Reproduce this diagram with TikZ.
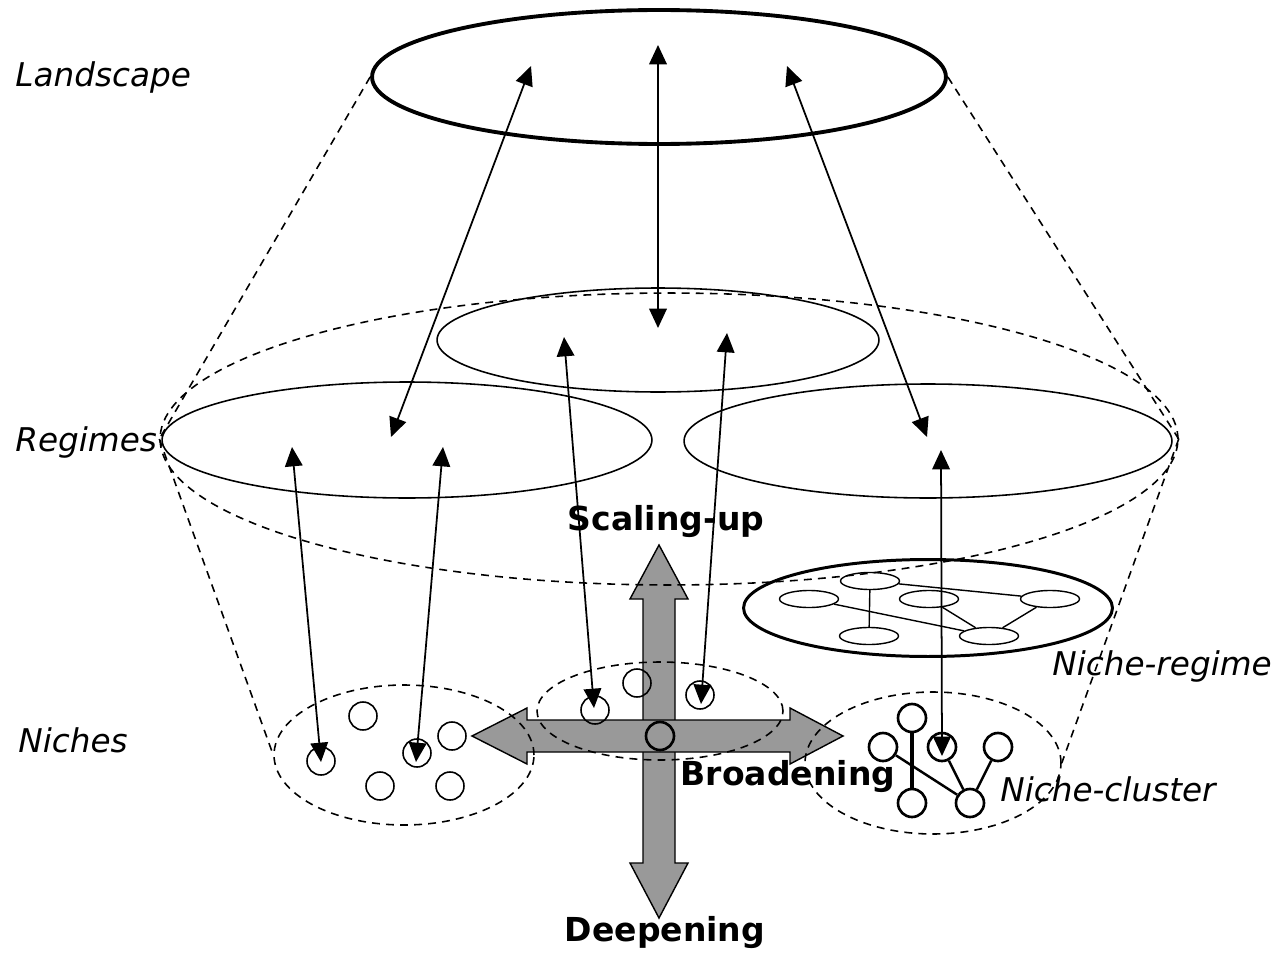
\documentclass[tikz,border=0pt]{standalone}
\usepackage{fontspec}
\setmainfont{DejaVu Sans}
\usetikzlibrary{shapes.geometric,arrows.meta}

\begin{document}
\begin{tikzpicture}[x=0.02cm, y=-0.02cm,
    every node/.style={inner sep=0pt},
    lbl/.style={font=\fontsize{18.6}{22}\selectfont\itshape, anchor=west},
    dir/.style={font=\fontsize{18.8}{22}\selectfont\bfseries},
    oval/.style={draw, ellipse, line width=0.9pt},
    hull/.style={line width=0.9pt, dash pattern=on 4.5pt off 3.5pt},
    niche/.style={draw, circle, minimum size=0.56cm, line width=0.9pt},
    twig/.style={draw, circle, minimum size=0.56cm, line width=1.5pt},
    cell/.style={draw, ellipse, minimum width=1.18cm, minimum height=0.34cm, line width=0.8pt},
    link/.style={{Triangle[length=11pt,width=10pt]}-{Triangle[length=11pt,width=10pt]}, line width=1pt},
    fat/.style={fill=black!40, draw, line width=0.8pt}]
        \useasboundingbox (0,0) rectangle (1281,953);

        % grey cross: scaling-up / deepening and broadening
        \draw[fat] (659,545) -- (688,599) -- (675,599) -- (675,863) -- (688,863) -- (659,918)
                -- (630,863) -- (643,863) -- (643,599) -- (630,599) -- cycle;
        \draw[fat] (472,736) -- (527,708) -- (527,720) -- (790,720) -- (790,708) -- (843,736)
                -- (790,764) -- (790,752) -- (527,752) -- (527,764) -- cycle;

        % levels
        \node[oval, line width=2.2pt, minimum width=11.48cm, minimum height=2.68cm] (land) at (659,77) {};
        \node[draw, ellipse, hull, minimum width=20.36cm, minimum height=5.84cm] (outer) at (669,439) {};
        \node[oval, minimum width=9.8cm, minimum height=2.32cm] (regL) at (407,440) {};
        \node[oval, minimum width=8.84cm, minimum height=2.08cm] (regM) at (658,340) {};
        \node[oval, minimum width=9.76cm, minimum height=2.28cm] (regR) at (928,441) {};
        \node[oval, line width=1.7pt, minimum width=7.38cm, minimum height=1.94cm] (nreg) at (928,608) {};

        \node[draw, ellipse, hull, minimum width=5.2cm, minimum height=2.8cm] (nicL) at (404,755) {};
        \node[draw, ellipse, hull, minimum width=4.92cm, minimum height=1.96cm] (nicM) at (660,711) {};
        \node[draw, ellipse, hull, minimum width=5.12cm, minimum height=2.84cm] (nicC) at (933,763) {};

        \draw[hull] (land.west) -- (outer.west);
        \draw[hull] (land.east) -- (outer.east);
        \draw[hull] (outer.west) -- (nicL.west);
        \draw[hull] (outer.east) -- (nicC.east);

        % niches
        \node[niche] (n1) at (363,716) {};
        \node[niche] (n2) at (321,761) {};
        \node[niche] (n3) at (417,753) {};
        \node[niche] (n4) at (452,736) {};
        \node[niche] (n5) at (380,786) {};
        \node[niche] (n6) at (450,786) {};
        \node[niche] (m1) at (595,710) {};
        \node[niche] (m2) at (637,683) {};
        \node[niche] (m3) at (700,695) {};
        \node[niche, line width=1.5pt] (m4) at (660,736) {};

        % niche-regime
        \node[cell] (cA) at (870,581) {};
        \node[cell] (cB) at (809,599) {};
        \node[cell] (cC) at (929,599) {};
        \node[cell] (cD) at (1050,599) {};
        \node[cell] (cE) at (869,636) {};
        \node[cell] (cF) at (989,636) {};
        \draw[line width=0.8pt] (cA) -- (cE);
        \draw[line width=0.8pt] (cA) -- (cD);
        \draw[line width=0.8pt] (cB) -- (cF);
        \draw[line width=0.8pt] (cC) -- (cF);
        \draw[line width=0.8pt] (cD) -- (cF);

        % niche-cluster
        \node[twig] (t1) at (912,718) {};
        \node[twig] (t2) at (883,747) {};
        \node[twig] (t3) at (942,747) {};
        \node[twig] (t4) at (998,747) {};
        \node[twig] (t5) at (912,803) {};
        \node[twig] (t6) at (970,803) {};
        \draw[line width=2.6pt] (t1) -- (t5);
        \draw[line width=1.4pt] (t2) -- (t6);
        \draw[line width=1.4pt] (t3) -- (t6);
        \draw[line width=1.4pt] (t4) -- (t6);

        % arrow ends
        \coordinate (up1) at (658,45);  \coordinate (dn1) at (658,328);
        \coordinate (up2) at (531,66);  \coordinate (dn2) at (391,437);
        \coordinate (up3) at (787,66);  \coordinate (dn3) at (927,437);
        \coordinate (up4) at (292,447); \coordinate (dn4) at (321,762);
        \coordinate (up5) at (443,447); \coordinate (dn5) at (416,762);
        \coordinate (up6) at (564,337); \coordinate (dn6) at (594,708);
        \coordinate (up7) at (727,333); \coordinate (dn7) at (701,704);
        \coordinate (up8) at (941,450); \coordinate (dn8) at (942,756);

        \draw[link] (up1) -- (dn1);
        \draw[link] (up2) -- (dn2);
        \draw[link] (up3) -- (dn3);
        \draw[link] (up4) -- (dn4);
        \draw[link] (up5) -- (dn5);
        \draw[link] (up6) -- (dn6);
        \draw[link] (up7) -- (dn7);
        \draw[link] (up8) -- (dn8);

        % labels
        \node[lbl] (tLand) at (15,77) {Landscape};
        \node[lbl] (tReg) at (15,442) {Regimes};
        \node[lbl] (tNic) at (18,740) {Niches};
        \node[lbl] (tNreg) at (1052,666) {Niche-regime};
        \node[lbl] (tNcl) at (1000,789) {Niche-cluster};
        \node[dir] (tUp) at (666,522) {Scaling-up};
        \node[dir] (tBro) at (788,777) {Broadening};
        \node[dir] (tDeep) at (665,933) {Deepening};
    \end{tikzpicture}
\end{document}
